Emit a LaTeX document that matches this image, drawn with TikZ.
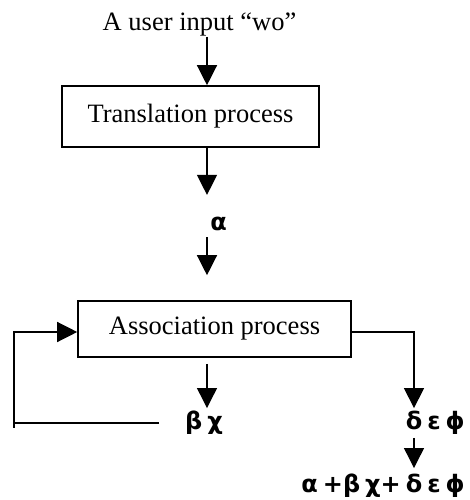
\documentclass[tikz,border=0pt]{standalone}
\usepackage{fontspec}
\setmainfont{Liberation Serif}
\newfontfamily\greekfont{DejaVu Sans}[WordSpace=0.6]
\usepackage{tikz}
\usetikzlibrary{arrows.meta,calc}
\tikzset{
  proc/.style={draw=black,line width=1.6pt,inner sep=0pt,font=\fontsize{26.5}{30}\selectfont},
  lbl/.style={inner sep=1pt,font=\fontsize{26.5}{30}\selectfont},
  sym/.style={inner sep=0pt,font=\fontsize{24}{28}\selectfont\greekfont\bfseries},
  flow/.style={-{Triangle[length=20pt,width=20pt]},line width=1.3pt,draw=black},
}
\begin{document}
\begin{tikzpicture}[x=1pt,y=-1pt]
  \useasboundingbox (0,0) rectangle (469,500);
  % vertical guides the arrows run along
  \coordinate (spine) at (207,0);
  \coordinate (drop) at (414,0);
  \coordinate (loop) at (14,0);

  \node[lbl] (in) at (199.5,24) {A user input “wo”};
  \node[proc,minimum width=257pt,minimum height=61pt] (tr) at (190.5,116.5) {Translation process};
  \node[sym] (a) at (218.5,224) {α};
  \node[proc,minimum width=273pt,minimum height=56pt] (as) at (214.5,329) {Association process};
  \node[sym,anchor=west] (bc) at (185,423) {β χ};
  \node[sym,anchor=east] (def) at (465,423) {δ ε ϕ};
  \node[sym,anchor=east] (sum) at (465,486) {α +β χ+ δ ε ϕ};

  \draw[flow] (in.south -| spine) -- (tr.north -| spine);
  \draw[flow,shorten >=22pt] (tr.south -| spine) -- (a.north -| spine);
  \draw[flow,shorten <=6pt,shorten >=25pt] (a.south -| spine) -- (as.north -| spine);
  \draw[flow,shorten <=6pt,shorten >=3pt] (as.south -| spine) -- (bc.north -| spine);
  \draw[flow,shorten >=3pt] ([yshift=-3pt]as.east) -| (def.north -| drop);
  \draw[flow,shorten <=3pt,shorten >=6pt] (def.south -| drop) -- (sum.north -| drop);
  % feedback loop back into the association step
  \draw[flow] ([xshift=-26pt]bc.west) -- (bc.west -| loop) |- ([yshift=-3pt]as.west);
  \draw[line width=1.3pt] (bc.west -| loop) -- ++(0,5);
\end{tikzpicture}
\end{document}
